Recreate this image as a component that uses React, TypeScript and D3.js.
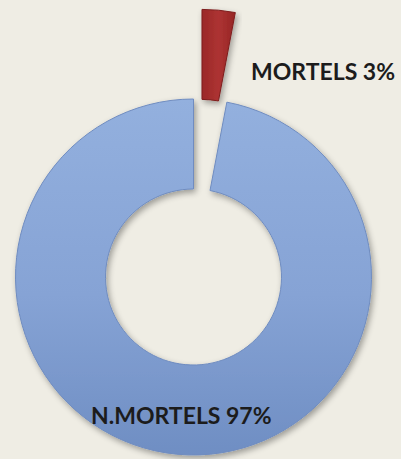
import React from "react";
import * as d3 from "d3";

const categories = ["MORTELS", "N.MORTELS"];
const values = [3, 97];

const W = 401;
const H = 459;
const cx = 193.5;
const cy = 277;
const outerR = 178;
const innerR = 88;
const explode = 90;

export default function App() {
  const total = d3.sum(values);
  const pie = d3
    .pie<number>()
    .sort(null)
    .startAngle(0)
    .endAngle(2 * Math.PI)(values);
  const arc = d3.arc<d3.PieArcDatum<number>>().innerRadius(innerR).outerRadius(outerR);

  const labelPos = [
    { x: 251, y: 80, anchor: "start" },
    { x: 91, y: 424, anchor: "start" },
  ];

  return (
    <svg
      width={W}
      height={H}
      style={{ position: "absolute", left: 0, top: 0 }}
      xmlns="http://www.w3.org/2000/svg"
    >
      <defs>
        <linearGradient id="gBlue" x1="0" y1="0" x2="0" y2="1">
          <stop offset="0%" stopColor="#93B0DE" />
          <stop offset="55%" stopColor="#86A3D5" />
          <stop offset="100%" stopColor="#6F8EC3" />
        </linearGradient>
        <linearGradient id="gRed" x1="0" y1="0" x2="1" y2="0">
          <stop offset="0%" stopColor="#9A2828" />
          <stop offset="50%" stopColor="#AD3332" />
          <stop offset="100%" stopColor="#962626" />
        </linearGradient>
        <filter id="shadow" x="-20%" y="-20%" width="140%" height="140%">
          <feGaussianBlur in="SourceAlpha" stdDeviation="3" />
          <feOffset dx="2" dy="3" result="ob" />
          <feComponentTransfer>
            <feFuncA type="linear" slope="0.35" />
          </feComponentTransfer>
          <feMerge>
            <feMergeNode />
            <feMergeNode in="SourceGraphic" />
          </feMerge>
        </filter>
      </defs>
      <rect x={0} y={0} width={W} height={H} fill="#EFEDE4" />
      {pie.map((d, i) => {
        const mid = (d.startAngle + d.endAngle) / 2;
        const off = i === 0 ? explode : 0;
        const dx = Math.sin(mid) * off;
        const dy = -Math.cos(mid) * off;
        return (
          <g key={categories[i]} transform={`translate(${cx + dx},${cy + dy})`} filter="url(#shadow)">
            <path
              d={arc(d) || ""}
              fill={i === 0 ? "url(#gRed)" : "url(#gBlue)"}
              stroke={i === 0 ? "#7E1E1E" : "#6F8CC0"}
              strokeWidth={1}
            />
          </g>
        );
      })}
      {pie.map((d, i) => (
        <text
          key={"l" + i}
          x={labelPos[i].x}
          y={labelPos[i].y}
          textAnchor={labelPos[i].anchor as any}
          fontFamily="Lato, 'Open Sans', sans-serif"
          fontWeight="bold"
          fontSize={23}
          fill="#1C1C1C"
        >
          {`${categories[i]} ${Math.round((d.data / total) * 100)}%`}
        </text>
      ))}
    </svg>
  );
}
